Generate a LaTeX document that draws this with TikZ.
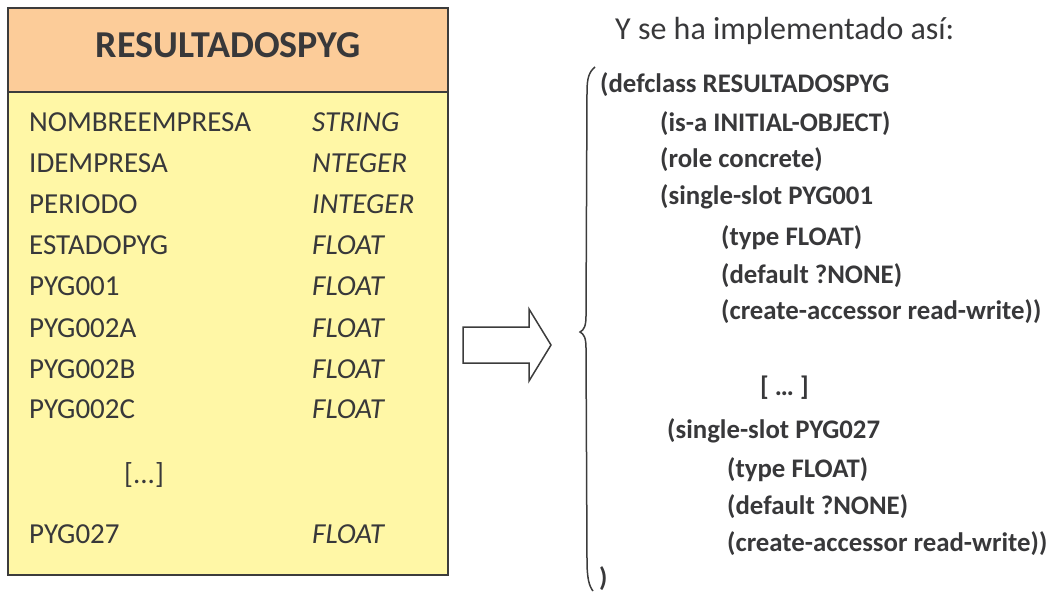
\documentclass[tikz,border=0pt]{standalone}
\usepackage{fontspec}
\setmainfont{Carlito}
\definecolor{ink}{HTML}{38383A}
\definecolor{headfill}{HTML}{FCCC99}
\definecolor{bodyfill}{HTML}{FFF7A6}
\definecolor{frame}{HTML}{3C3C3C}
\tikzset{
  field/.style={anchor=base west, inner sep=0pt, text=ink, font=\fontsize{29}{29}\selectfont},
  ftype/.style={field, font=\fontsize{29}{29}\selectfont\itshape},
  code/.style={anchor=base west, inner sep=0pt, text=ink, font=\fontsize{26.8}{26.8}\selectfont\bfseries},
  box/.style={draw=frame, line width=1.6pt},
}
\begin{document}
\begin{tikzpicture}[x=1pt, y=-1pt]
\useasboundingbox (0,0) rectangle (1048,592);

% class box: header and attribute compartment
\path[box, fill=bodyfill] (8,92) rectangle (448,575);
\path[box, fill=headfill] (8,8) rectangle (448,92);
\node[anchor=base, inner sep=0pt, text=ink, font=\fontsize{38}{38}\selectfont\bfseries] (title) at (228,57) {RESULTADOSPYG};

% attributes
\node[field] (a1) at (29,131) {NOMBREEMPRESA};
\node[ftype] (t1) at (312,131) {STRING};
\node[field] (a2) at (29,172) {IDEMPRESA};
\node[ftype] (t2) at (312,172) {NTEGER};
\node[field] (a3) at (29,213) {PERIODO};
\node[ftype] (t3) at (312,213) {INTEGER};
\node[field] (a4) at (29,254) {ESTADOPYG};
\node[ftype] (t4) at (312,254) {FLOAT};
\node[field] (a5) at (29,295) {PYG001};
\node[ftype] (t5) at (312,295) {FLOAT};
\node[field] (a6) at (29,337) {PYG002A};
\node[ftype] (t6) at (312,337) {FLOAT};
\node[field] (a7) at (29,378) {PYG002B};
\node[ftype] (t7) at (312,378) {FLOAT};
\node[field] (a8) at (29,418) {PYG002C};
\node[ftype] (t8) at (312,418) {FLOAT};
\node[field] (dots) at (124,483) {[...]};
\node[field] (a9) at (29,543) {PYG027};
\node[ftype] (t9) at (312,543) {FLOAT};

% block arrow
\draw[frame, line width=1.5pt, fill=white, line join=miter]
  (463,327) -- (529,327) -- (529,309) -- (551,345) -- (529,381) -- (529,363) -- (463,363) -- cycle;

% heading of the code listing
\node[anchor=base west, inner sep=0pt, text=ink, font=\fontsize{32}{32}\selectfont] (head) at (615,39) {Y se ha implementado así:};

% curly brace around the listing
\coordinate (btop) at (595,67);
\coordinate (btip) at (580,332);
\coordinate (bbot) at (593,591);
\draw[frame, line width=1.5pt]
  (btop) .. controls (589,72) and (587,78) .. (587,92)
  -- (586,316) .. controls (586,326) and (584,330) .. (btip)
  .. controls (584,334) and (586,338) .. (586,348)
  -- (587,560) .. controls (587,578) and (589,586) .. (bbot);

% listing
\node[code] (c1) at (600,92) {(defclass RESULTADOSPYG};
\node[code] (c2) at (660,131) {(is-a INITIAL-OBJECT)};
\node[code] (c3) at (660,167) {(role concrete)};
\node[code] (c4) at (660,204) {(single-slot PYG001};
\node[code] (c5) at (721,245) {(type FLOAT)};
\node[code] (c6) at (721,283) {(default ?NONE)};
\node[code] (c7) at (721,319) {(create-accessor read-write))};
\node[code] (c8) at (760,395) {[ … ]};
\node[code] (c9) at (667,438) {(single-slot PYG027};
\node[code] (c10) at (727,477) {(type FLOAT)};
\node[code] (c11) at (727,514) {(default ?NONE)};
\node[code] (c12) at (727,551) {(create-accessor read-write))};
\node[code] (c13) at (599,586) {)};
\end{tikzpicture}
\end{document}
